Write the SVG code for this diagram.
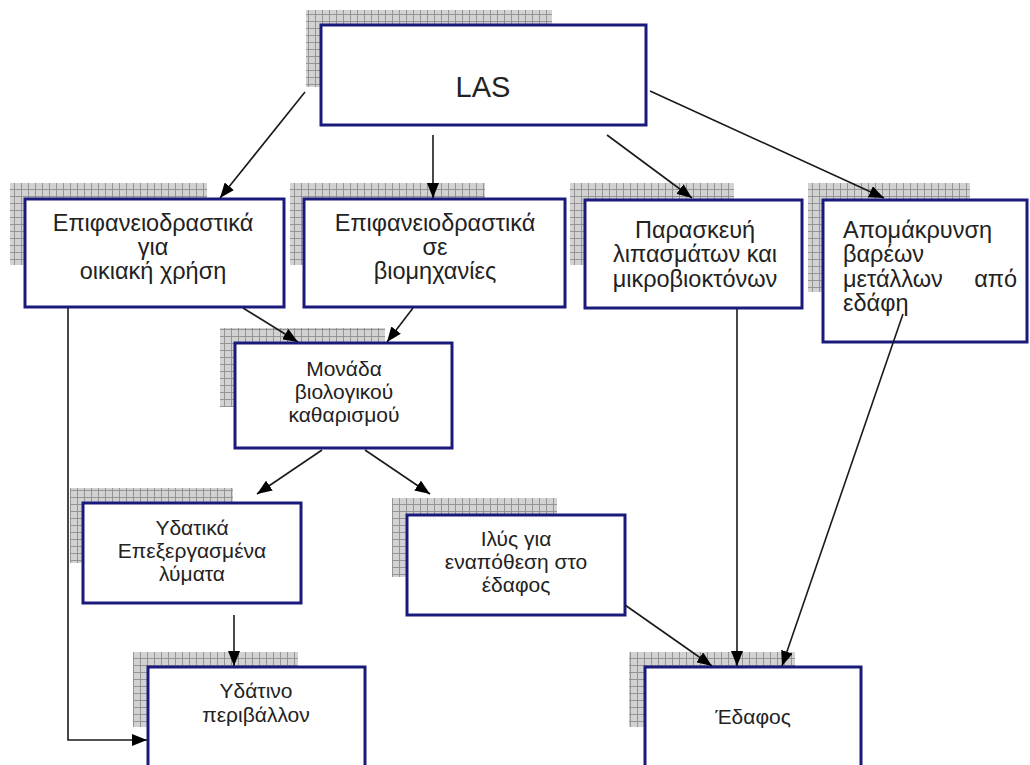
<svg xmlns="http://www.w3.org/2000/svg" width="1030" height="765" viewBox="0 0 1030 765">
<style>
.box{fill:#ffffff;stroke:#1a1a7c;stroke-width:3}
.sh{fill:url(#grid)}
.t{font-family:"Liberation Sans",Arial,sans-serif;fill:#222222;text-anchor:middle}
.big{font-size:23.5px}
.mid{font-size:21px}
.lt{text-anchor:start}
.c{stroke:#1a1a1a;stroke-width:1.6;fill:none;marker-end:url(#ah)}
</style>
<defs>
<pattern id="grid" width="7" height="7" patternUnits="userSpaceOnUse">
<rect width="7" height="7" fill="#d2d2d2"/>
<path d="M0 0.5H7M0.5 0V7" stroke="#8e8e8e" stroke-width="0.9"/>
</pattern>
<marker id="ah" markerWidth="16" markerHeight="12" refX="15" refY="6" orient="auto" markerUnits="userSpaceOnUse">
<path d="M0 0L15 6L0 12Z" fill="#000000"/>
</marker>
</defs>
<rect width="1030" height="765" fill="#ffffff"/>

<g id="las">
<rect class="sh" x="306" y="10" width="246" height="77"/>
<rect class="box" x="321" y="25" width="325" height="100"/>
<text class="t" x="483" y="97" font-size="29">LAS</text>
</g>

<g id="oikiaki">
<rect class="sh" x="10" y="183" width="197" height="82"/>
<rect class="box" x="25" y="199" width="259" height="108"/>
<text class="t big" x="153"><tspan x="153" y="231">Επιφανειοδραστικά</tspan><tspan x="153" y="255">για</tspan><tspan x="153" y="279">οικιακή χρήση</tspan></text>
</g>

<g id="viomichanies">
<rect class="sh" x="290" y="183" width="195" height="82"/>
<rect class="box" x="304" y="199" width="261" height="108"/>
<text class="t big" x="435"><tspan x="435" y="231">Επιφανειοδραστικά</tspan><tspan x="435" y="255">σε</tspan><tspan x="435" y="279">βιομηχανίες</tspan></text>
</g>

<g id="paraskevi">
<rect class="sh" x="570" y="183" width="164" height="82"/>
<rect class="box" x="585" y="200" width="217" height="108"/>
<text class="t big" x="695"><tspan x="695" y="238">Παρασκευή</tspan><tspan x="695" y="262">λιπασμάτων και</tspan><tspan x="695" y="287">μικροβιοκτόνων</tspan></text>
</g>

<g id="apomakrynsi">
<rect class="sh" x="808" y="183" width="162" height="109"/>
<rect class="box" x="823" y="200" width="204" height="142"/>
<text class="t big lt"><tspan x="843" y="238">Απομάκρυνση</tspan><tspan x="843" y="262">βαρέων</tspan><tspan x="843" y="287">μετάλλων</tspan><tspan x="1017" y="287" text-anchor="end">από</tspan><tspan x="843" y="311">εδάφη</tspan></text>
</g>

<g id="monada">
<rect class="sh" x="220" y="328" width="165" height="79"/>
<rect class="box" x="235" y="343" width="217" height="105"/>
<text class="t mid" x="344"><tspan x="344" y="376">Μονάδα</tspan><tspan x="344" y="399">βιολογικού</tspan><tspan x="344" y="422">καθαρισμού</tspan></text>
</g>

<g id="ydatika">
<rect class="sh" x="70" y="488" width="163" height="75"/>
<rect class="box" x="83" y="503" width="218" height="100"/>
<text class="t mid" x="192"><tspan x="192" y="535">Υδατικά</tspan><tspan x="192" y="558">Επεξεργασμένα</tspan><tspan x="192" y="581">λύματα</tspan></text>
</g>

<g id="ilys">
<rect class="sh" x="392" y="498" width="165" height="79"/>
<rect class="box" x="407" y="515" width="218" height="100"/>
<text class="t mid" x="516"><tspan x="516" y="546">Ιλύς για</tspan><tspan x="516" y="569">εναπόθεση στο</tspan><tspan x="516" y="592">έδαφος</tspan></text>
</g>

<g id="ydatino">
<rect class="sh" x="133" y="652" width="165" height="75"/>
<rect class="box" x="148" y="667" width="217" height="100"/>
<text class="t mid" x="256"><tspan x="256" y="698">Υδάτινο</tspan><tspan x="256" y="722">περιβάλλον</tspan></text>
</g>

<g id="edafos">
<rect class="sh" x="629" y="652" width="166" height="75"/>
<rect class="box" x="645" y="667" width="216" height="100"/>
<text class="t mid" x="753" y="724">Έδαφος</text>
</g>

<g id="connectors">
<line class="c" x1="305" y1="92" x2="220" y2="198"/>
<line class="c" x1="433" y1="135" x2="433" y2="198"/>
<line class="c" x1="607" y1="135" x2="692" y2="198"/>
<line class="c" x1="650" y1="91" x2="884" y2="198"/>
<line class="c" x1="243" y1="308" x2="298" y2="342"/>
<line class="c" x1="413" y1="308" x2="387" y2="342"/>
<line class="c" x1="322" y1="450" x2="257" y2="494"/>
<line class="c" x1="365" y1="450" x2="430" y2="494"/>
<line class="c" x1="234" y1="615" x2="234" y2="666"/>
<polyline class="c" points="68,308 68,740 147,740"/>
<line class="c" x1="625" y1="605" x2="712" y2="666"/>
<line class="c" x1="737" y1="309" x2="737" y2="666"/>
<line class="c" x1="903" y1="314" x2="782" y2="666"/>
</g>
</svg>
